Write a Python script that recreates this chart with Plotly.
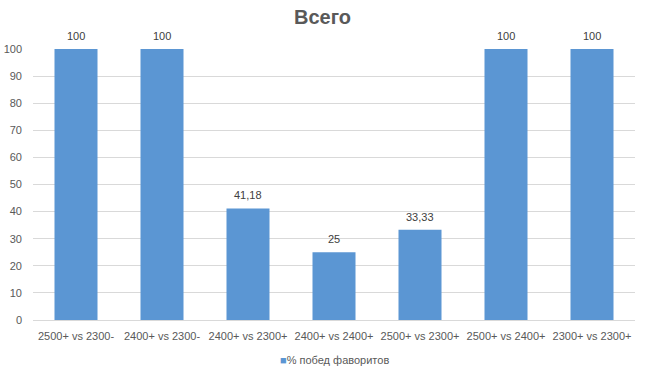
import plotly.graph_objects as go

categories = ["2500+ vs 2300-", "2400+ vs 2300-", "2400+ vs 2300+", "2400+ vs 2400+",
              "2500+ vs 2300+", "2500+ vs 2400+", "2300+ vs 2300+"]
values = [100, 100, 41.18, 25, 33.33, 100, 100]
labels = [("%g" % v).replace(".", ",") for v in values]
series_name = "% побед фаворитов"
y_ticks = list(range(0, 101, 10))

font_family = "Liberation Sans, Arial, sans-serif"
grey = "#595959"
bar_color = "#5b96d3"

fig = go.Figure()
fig.add_trace(go.Bar(
    x=categories, y=values, name=series_name,
    marker=dict(color=bar_color, line=dict(width=0)),
    showlegend=False,
))
for c, v, t in zip(categories, values, labels):
    fig.add_annotation(x=c, y=v, text=t, showarrow=False, yanchor="bottom", yshift=5,
                       font=dict(size=11, color="#404040", family=font_family))
# legend drawn as text
fig.add_annotation(xref="paper", yref="paper", x=0.5, y=-0.148, xanchor="center", yanchor="middle",
                   showarrow=False,
                   text=f"<span style='color:{bar_color};font-size:11px'>■</span>{series_name}",
                   font=dict(size=11, color=grey, family=font_family))
fig.update_layout(
    width=645, height=378,
    margin=dict(l=33, r=10, t=49, b=58, autoexpand=False),
    paper_bgcolor="white", plot_bgcolor="white",
    bargap=0.5,
    title=dict(text="<b>Всего</b>", x=0.5, xanchor="center", y=0.955, yanchor="middle",
               font=dict(size=20, color=grey, family=font_family)),
    font=dict(family=font_family, size=11, color=grey),
    showlegend=False,
    xaxis=dict(showline=True, linecolor="#d9d9d9", linewidth=1, ticks="",
               tickfont=dict(size=11, color=grey), automargin=False, ticklabelstandoff=6),
    yaxis=dict(range=[0, 100], tickvals=y_ticks, showgrid=True, gridcolor="#d9d9d9",
               zeroline=False, showline=False, ticks="", ticklabelstandoff=10,
               tickfont=dict(size=11, color=grey), automargin=False),
)
fig.write_html("out.html")
